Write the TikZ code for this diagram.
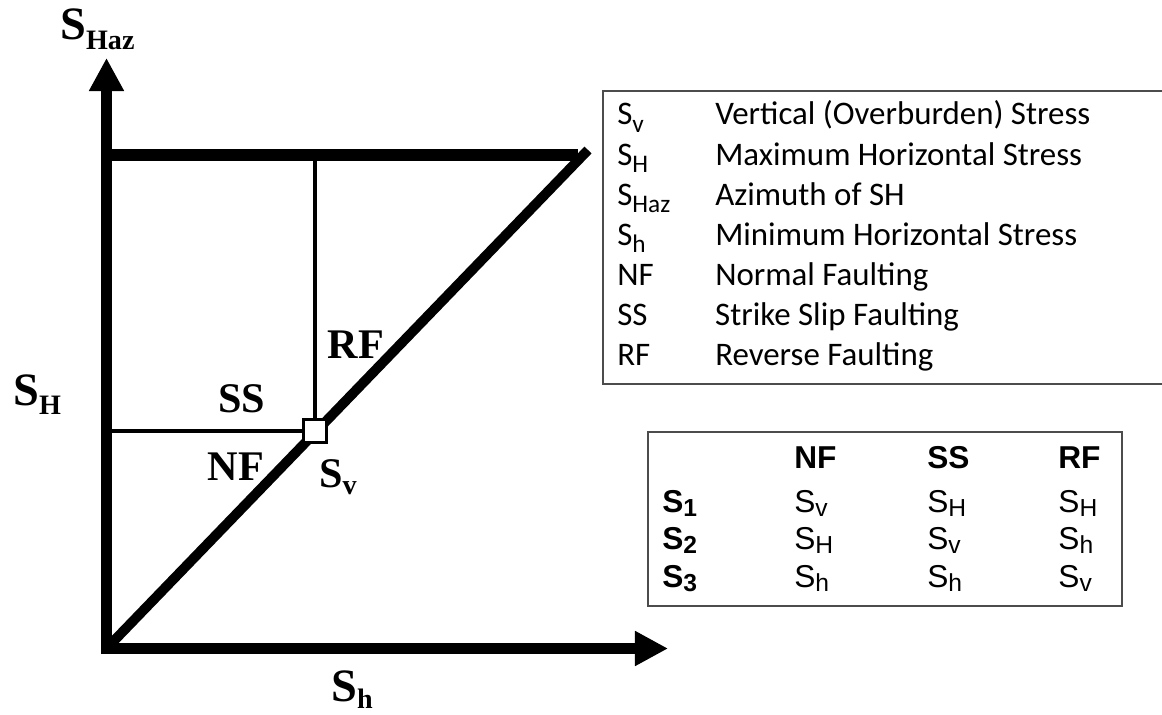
\documentclass[tikz,border=0pt]{standalone}
\usepackage{fontspec}
\setmainfont{Liberation Serif}
\newfontfamily\legendfont{Carlito}
\newfontfamily\tablefont{Liberation Sans}
\usetikzlibrary{arrows.meta}

% lowered subscripts (label, legend, table)
\newcommand{\labsub}[2][7pt]{\raisebox{-#1}{\fontsize{20}{20}\selectfont #2}}
\newcommand{\legsub}[1]{\raisebox{-5pt}{\fontsize{18}{18}\selectfont #1}}
\newcommand{\tabsub}[1]{\raisebox{-3pt}{\fontsize{17.5}{17.5}\selectfont #1}}

\tikzset{
    axisline/.style={line width=7.8pt, line join=miter,
        {Triangle[length=23.5pt,width=23.5pt]}-{Triangle[length=23.5pt,width=23.5pt]}},
    boundline/.style={line width=8.5pt},
    diagline/.style={line width=7pt},
    thinline/.style={line width=3.4pt},
    axislabel/.style={font=\fontsize{33}{38}\selectfont\bfseries, inner sep=0pt, anchor=base west},
    regionlabel/.style={font=\fontsize{30}{34}\selectfont\bfseries, inner sep=0pt, anchor=base},
    framebox/.style={draw=black!70, line width=1.4pt},
}

\begin{document}
\begin{tikzpicture}[x=0.025cm, y=-0.025cm]
    % =========================================
    % 1. Canvas (1162 x 715, pixel units)
    % =========================================
    \clip (0,0) rectangle (1162,715);
    \fill[white] (0,0) rectangle (1162,715);

    \coordinate (Origin) at (106.5,648.5);
    \coordinate (YTip) at (106.5,58);
    \coordinate (XTip) at (668,648.5);
    \coordinate (TopR) at (578,155);
    \coordinate (DiagEnd) at (588,150);

    % =========================================
    % 2. Axes and regime boundaries
    % =========================================
    \draw[boundline] (Origin |- TopR) -- (TopR);
    \draw[diagline] (Origin) -- (DiagEnd);
    \draw[axisline] (YTip) -- (Origin) -- (XTip);

    % S_v point with its two thin boundaries
    \node[draw, fill=white, line width=1.8pt, minimum size=16.4pt, inner sep=0pt] (SvBox) at (315,431) {};
    \draw[thinline] (SvBox.north) -- (SvBox.north |- TopR);
    \draw[thinline] (SvBox.west) -- (SvBox.west -| Origin);

    % =========================================
    % 3. Axis and region labels
    % =========================================
    \node[axislabel] (LblHaz) at (60,40) {S\labsub{Haz}};
    \node[axislabel] (LblSH) at (13,405) {S\labsub{H}};
    \node[axislabel] (LblSh) at (331,701) {S\labsub[5pt]{h}};

    \node[regionlabel] (LblSS) at (242,412) {SS};
    \node[regionlabel] (LblNF) at (236,480) {NF};
    \node[regionlabel] (LblRF) at (356,358) {RF};
    \node[regionlabel, anchor=base west] (LblSv) at (319,487) {S\labsub[5pt]{v}};

    % =========================================
    % 4. Legend (symbols)
    % =========================================
    \draw[framebox] (603,91) rectangle (1180,384);
    \node[anchor=base west, inner sep=0pt, font=\legendfont\fontsize{23.4}{28.45}\selectfont] (Legend) at (617,125) {%
        \begin{tabular}[t]{@{}p{69.7pt}@{}l@{}}
        S\legsub{v}   & Vertical (Overburden) Stress \\
        S\legsub{H}   & Maximum Horizontal Stress \\
        S\legsub{Haz} & Azimuth of SH \\
        S\legsub{h}   & Minimum Horizontal Stress \\
        NF            & Normal Faulting \\
        SS            & Strike Slip Faulting \\
        RF            & Reverse Faulting
        \end{tabular}};

    % =========================================
    % 5. Principal stress order per regime
    % =========================================
    \draw[framebox] (648,432) rectangle (1122,606);
    \node[anchor=base west, inner sep=0pt, font=\tablefont\fontsize{22.5}{26.7}\selectfont] (Regimes) at (662,468) {%
        \begin{tabular}[t]{@{}p{93.9pt}@{}p{94.6pt}@{}p{93.2pt}@{}l@{}}
                          & \textbf{NF}   & \textbf{SS}   & \textbf{RF} \\[4.6pt]
        \textbf{S\tabsub{1}} & S\tabsub{v} & S\tabsub{H} & S\tabsub{H} \\
        \textbf{S\tabsub{2}} & S\tabsub{H} & S\tabsub{v} & S\tabsub{h} \\
        \textbf{S\tabsub{3}} & S\tabsub{h} & S\tabsub{h} & S\tabsub{v}
        \end{tabular}};

\end{tikzpicture}
\end{document}
